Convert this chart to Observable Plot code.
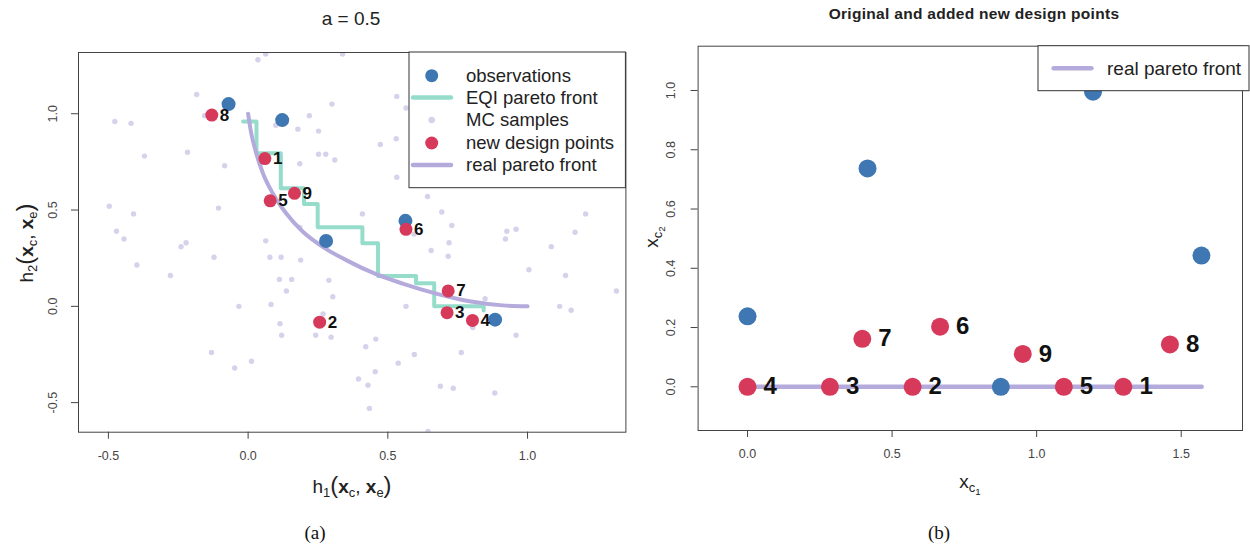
<!DOCTYPE html>
<html>
<head>
<meta charset="utf-8">
<script src="https://cdn.jsdelivr.net/npm/d3@7"></script>
<script src="https://cdn.jsdelivr.net/npm/@observablehq/plot@0.6"></script>
<style>
  html, body { margin: 0; padding: 0; background: #fff; }
  #wrap { position: relative; width: 1250px; height: 550px; overflow: hidden; font-family: 'Liberation Sans', Arial, sans-serif; color: #111; }
  .abs { position: absolute; transform: translate(-50%, -50%); white-space: nowrap; line-height: 1; }
  .rot { transform: translate(-50%, -50%) rotate(-90deg); }
  .sb { font-size: 0.68em; vertical-align: -0.32em; line-height: 0; }
  .sb2 { font-size: 0.75em; vertical-align: -0.3em; line-height: 0; }
  .par { font-size: 1.25em; font-weight: 300; }
  #pa, #pb { position: absolute; top: 0; }
  #pa { left: 0; }
  #pb { left: 640px; }
  .cap { font-family: 'Liberation Serif', 'Times New Roman', serif; font-size: 19px; }
</style>
</head>
<body>
<div id="wrap">
  <div id="pa"></div>
  <div id="pb"></div>
  <div class="abs" style="left:351px; top:18px; font-size:19px; color:#222;">a = 0.5</div>
  <div class="abs" style="left:974px; top:14px; font-size:15.5px; font-weight:bold; color:#222; letter-spacing:0.3px;">Original and added new design points</div>
  <div class="abs" style="left:352px; top:485px; font-size:19px; color:#222;">h<span class="sb">1</span><span class="par">(</span><b>x</b><span class="sb">c</span>, <b>x</b><span class="sb">e</span><span class="par">)</span></div>
  <div class="abs rot" style="left:25px; top:243px; font-size:19px; color:#222;">h<span class="sb">2</span><span class="par">(</span><b>x</b><span class="sb">c</span>, <b>x</b><span class="sb">e</span><span class="par">)</span></div>
  <div class="abs" style="left:970px; top:482px; font-size:19px; color:#222;">x<span class="sb">c<span class="sb2">1</span></span></div>
  <div class="abs rot" style="left:652px; top:237px; font-size:19px; color:#222;">x<span class="sb">c<span class="sb2">2</span></span></div>
  <div class="abs cap" style="left:315px; top:532px;">(a)</div>
  <div class="abs cap" style="left:939px; top:532px;">(b)</div>
</div>
<script>
// ---------- Panel (a) data ----------
const aXTicks = [-0.5, 0, 0.5, 1];
const aYTicks = [-0.5, 0, 0.5, 1];

const mcX = [0.035, 0.063, 0.338, -0.184, 0.532, 0.30, 0.565, -0.477, -0.419, 0.219,
  0.178, 0.252, 0.099, 0.53, 0.473, -0.217, -0.371, -0.084, 0.252, 0.278,
  0.31, 0.185, 0.532, 0.642, -0.497, -0.41, -0.106, 0.409, 0.693, 1.208,
  -0.471, -0.444, -0.222, -0.24, 0.063, 0.185, 0.594, 0.729, 0.926, 0.959,
  0.921, 1.17, 0.719, 1.085, 0.655, 0.716, -0.122, 0.078, 0.118, 0.188,
  -0.398, -0.278, 0.112, 0.156, 0.289, 0.137, 1.005, 1.136, 1.318, 0.303,
  0.848, -0.033, 0.082, 0.565, 1.115, 1.156, 0.268, 0.114, 0.12, 0.242,
  0.297, 0.804, 0.959, 0.883, 0.457, 0.421, -0.131, 0.012, -0.048, 0.595,
  0.763, 0.537, 0.455, 0.395, 0.429, 0.688, 0.734, 0.434, 0.644, -0.156];
const mcY = [1.28, 1.31, 1.31, 1.10, 1.09, 1.05, 1.03, 0.96, 0.95, 0.99,
  0.92, 0.91, 0.94, 0.87, 0.84, 0.80, 0.78, 0.73, 0.79, 0.79,
  0.76, 0.74, 0.67, 0.57, 0.52, 0.48, 0.51, 0.48, 0.49, 0.48,
  0.39, 0.35, 0.33, 0.31, 0.34, 0.41, 0.375, 0.42, 0.39, 0.40,
  0.35, 0.385, 0.33, 0.31, 0.29, 0.26, 0.255, 0.255, 0.255, 0.24,
  0.215, 0.16, 0.14, 0.14, 0.135, 0.08, 0.19, 0.16, 0.08, 0.05,
  0.04, 0.0, 0.01, 0.0, 0.0, -0.02, -0.04, -0.09, -0.15, -0.15,
  -0.16, -0.11, -0.15, -0.45, -0.17, -0.21, -0.24, -0.285, -0.32, -0.25,
  -0.24, -0.295, -0.34, -0.377, -0.41, -0.415, -0.425, -0.53, -0.65, 0.99];

const eqiX = [-0.018, 0.03, 0.117, 0.2, 0.249, 0.409, 0.465, 0.601, 0.666, 0.843];
const eqiY = [0.96, 0.795, 0.613, 0.532, 0.411, 0.327, 0.158, 0.12, 0.0, -0.022];

const realX = [0, 0.011, 0.029, 0.053, 0.088, 0.136, 0.196, 0.267, 0.351, 0.458, 0.553, 0.673, 0.792, 0.911, 1.0];
const realY = [1.0, 0.90, 0.795, 0.691, 0.587, 0.483, 0.387, 0.309, 0.24, 0.167, 0.118, 0.066, 0.026, 0.005, 0.0];

const obsAX = [-0.07, 0.122, 0.279, 0.563, 0.884];
const obsAY = [1.05, 0.967, 0.339, 0.444, -0.069];

const designIds = ["1", "2", "3", "4", "5", "6", "7", "8", "9"];
const designAX = [0.06, 0.256, 0.712, 0.803, 0.079, 0.565, 0.716, -0.13, 0.166];
const designAY = [0.767, -0.082, -0.033, -0.073, 0.548, 0.40, 0.08, 0.993, 0.587];

// ---------- Panel (b) data ----------
const bXTicks = [0, 0.5, 1, 1.5];
const bYTicks = [0, 0.2, 0.4, 0.6, 0.8, 1.0];
const realBX = [0, 1.5708];
const realBY = [0, 0];
const obsBX = [0, 0.415, 1.195, 1.57, 0.876];
const obsBY = [0.238, 0.737, 0.996, 0.443, 0];
const designBX = [1.30, 0.571, 0.285, 0, 1.094, 0.666, 0.397, 1.461, 0.952];
const designBY = [0, 0, 0, 0, 0, 0.203, 0.162, 0.143, 0.111];

// ---------- colours ----------
const BLUE = "#3e77b1", RED = "#d7395b", MC = "#d6d2ec", EQI = "#95dccb", REAL = "#b4abdc";

const zip = (xs, ys, extra) => xs.map((x, i) => Object.assign({x, y: ys[i]}, extra ? {id: extra[i]} : {}));
const mc = zip(mcX, mcY);
const eqi = zip(eqiX, eqiY);
const real = zip(realX, realY);
const obsA = zip(obsAX, obsAY);
const desA = zip(designAX, designAY, designIds);
const realB = zip(realBX, realBY);
const obsB = zip(obsBX, obsBY);
const desB = zip(designBX, designBY, designIds);

const fmt = d => d.toFixed(1);
const baseStyle = {fontFamily: "'Liberation Sans', Arial, sans-serif", fontSize: "12.5px", color: "#444", background: "transparent", overflow: "visible"};

const A = Plot.plot({
  width: 640, height: 510,
  marginLeft: 78, marginRight: 14.6, marginTop: 52, marginBottom: 78.3,
  x: {domain: [-0.607, 1.352]},
  y: {domain: [-0.6535, 1.318]},
  style: baseStyle,
  marks: [
    Plot.axisX({ticks: aXTicks, tickSize: 7, tickPadding: 12, tickFormat: fmt, label: null}),
    Plot.axisY({ticks: aYTicks, tickSize: 7, tickPadding: 15, tickRotate: -90, tickFormat: fmt, label: null}),
    Plot.dot(mc, {x: "x", y: "y", r: 2.7, fill: MC, clip: true}),
    Plot.line(eqi, {x: "x", y: "y", curve: "step-after", stroke: EQI, strokeWidth: 4}),
    Plot.line(real, {x: "x", y: "y", curve: "monotone-x", stroke: REAL, strokeWidth: 4}),
    Plot.dot(obsA, {x: "x", y: "y", r: 7, fill: BLUE}),
    Plot.dot(desA, {x: "x", y: "y", r: 6.5, fill: RED}),
    Plot.text(desA, {x: "x", y: "y", text: "id", dx: 8, textAnchor: "start", fontWeight: "bold", fontSize: 17, fill: "#111"}),
    Plot.frame({stroke: "#444"})
  ]
});
document.getElementById("pa").appendChild(A);

const B = Plot.plot({
  width: 610, height: 510,
  marginLeft: 57.6, marginRight: 8, marginTop: 45.7, marginBottom: 80,
  x: {domain: [-0.171, 1.712]},
  y: {domain: [-0.1475, 1.1495]},
  style: baseStyle,
  marks: [
    Plot.axisX({ticks: bXTicks, tickSize: 7, tickPadding: 12, tickFormat: fmt, label: null}),
    Plot.axisY({ticks: bYTicks, tickSize: 7, tickPadding: 16, tickRotate: -90, tickFormat: fmt, label: null}),
    Plot.line(realB, {x: "x", y: "y", stroke: REAL, strokeWidth: 4.5}),
    Plot.dot(obsB, {x: "x", y: "y", r: 9, fill: BLUE}),
    Plot.dot(desB, {x: "x", y: "y", r: 9, fill: RED}),
    Plot.text(desB, {x: "x", y: "y", text: "id", dx: 16, textAnchor: "start", fontWeight: "bold", fontSize: 24, fill: "#111"}),
    Plot.frame({stroke: "#444"})
  ]
});
document.getElementById("pb").appendChild(B);

// ---------- legends ----------
function legend(svg, box, items) {
  const g = d3.select(svg).append("g").attr("font-family", "'Liberation Sans', Arial, sans-serif")
    .attr("text-anchor", "start");
  g.append("rect").attr("x", box.x).attr("y", box.y).attr("width", box.w).attr("height", box.h)
    .attr("fill", "#fff").attr("stroke", "#333").attr("stroke-width", 1);
  items.forEach(it => {
    if (it.type === "dot") {
      g.append("circle").attr("cx", box.sx).attr("cy", it.y).attr("r", it.r).attr("fill", it.color);
    } else {
      g.append("line").attr("x1", box.lx1).attr("x2", box.lx2).attr("y1", it.y).attr("y2", it.y)
        .attr("stroke", it.color).attr("stroke-width", 4.5).attr("stroke-linecap", "round");
    }
    g.append("text").attr("x", box.tx).attr("y", it.y).attr("dy", "0.35em").attr("font-size", box.fs)
      .attr("text-anchor", "start").attr("fill", "#222").text(it.label);
  });
}
legend(A, {x: 409, y: 52, w: 216.4, h: 135.7, sx: 431.7, lx1: 413, lx2: 451, tx: 466, fs: 18.5}, [
  {type: "dot", r: 6.5, color: BLUE, y: 75.7, label: "observations"},
  {type: "line", color: EQI, y: 97.5, label: "EQI pareto front"},
  {type: "dot", r: 3.3, color: MC, y: 120, label: "MC samples"},
  {type: "dot", r: 6.5, color: RED, y: 143, label: "new design points"},
  {type: "line", color: REAL, y: 165, label: "real pareto front"}
]);
legend(B, {x: 398, y: 45.7, w: 211, h: 45, sx: 432, lx1: 413.6, lx2: 451.4, tx: 467, fs: 19}, [
  {type: "line", color: REAL, y: 68.3, label: "real pareto front"}
]);
</script>
</body>
</html>
